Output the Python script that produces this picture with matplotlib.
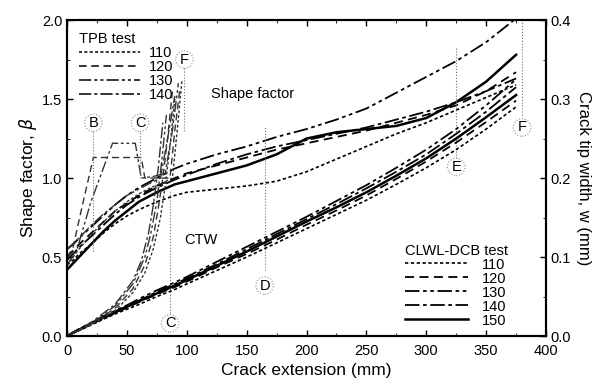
import numpy as np
import matplotlib
matplotlib.use('Agg')
import matplotlib.pyplot as plt
from matplotlib.ticker import MultipleLocator
from matplotlib.lines import Line2D

plt.rcParams['font.family'] = ['Liberation Sans', 'DejaVu Sans']
plt.rcParams['mathtext.fontset'] = 'dejavusans'

# crack extension grid for the CLWL-DCB tests (mm)
x_dcb = [0, 5, 10, 20, 30, 40, 50, 60, 75, 90, 100, 125, 150, 175, 200, 225, 250, 275, 300, 325, 350, 375]

# shape factor, CLWL-DCB
sf_110 = [0.45, 0.48, 0.52, 0.58, 0.65, 0.71, 0.76, 0.80, 0.85, 0.89, 0.91, 0.93, 0.95, 0.98, 1.04, 1.12, 1.20, 1.28, 1.35, 1.43, 1.51, 1.59]
sf_120 = [0.50, 0.54, 0.58, 0.65, 0.72, 0.79, 0.84, 0.89, 0.95, 1.00, 1.03, 1.08, 1.13, 1.18, 1.22, 1.26, 1.30, 1.35, 1.40, 1.46, 1.55, 1.67]
sf_130 = [0.55, 0.58, 0.62, 0.69, 0.76, 0.83, 0.89, 0.94, 1.00, 1.06, 1.09, 1.15, 1.20, 1.26, 1.31, 1.37, 1.44, 1.54, 1.64, 1.74, 1.86, 2.01]
sf_140 = [0.48, 0.52, 0.56, 0.63, 0.70, 0.77, 0.83, 0.88, 0.94, 0.99, 1.02, 1.09, 1.15, 1.20, 1.24, 1.28, 1.32, 1.37, 1.42, 1.48, 1.55, 1.63]
sf_150 = [0.42, 0.46, 0.50, 0.58, 0.66, 0.73, 0.79, 0.85, 0.91, 0.96, 0.98, 1.03, 1.08, 1.15, 1.25, 1.29, 1.31, 1.33, 1.38, 1.48, 1.61, 1.78]

# crack tip width, CLWL-DCB (mm)
w_110 = [0, 0.004, 0.007, 0.014, 0.021, 0.028, 0.034, 0.040, 0.050, 0.059, 0.066, 0.083, 0.100, 0.118, 0.136, 0.154, 0.172, 0.192, 0.213, 0.236, 0.262, 0.290]
w_120 = [0, 0.004, 0.008, 0.015, 0.022, 0.029, 0.036, 0.043, 0.053, 0.062, 0.069, 0.087, 0.104, 0.122, 0.141, 0.159, 0.178, 0.199, 0.221, 0.245, 0.271, 0.298]
w_130 = [0, 0.005, 0.009, 0.017, 0.025, 0.032, 0.039, 0.047, 0.058, 0.068, 0.075, 0.094, 0.113, 0.132, 0.151, 0.171, 0.191, 0.213, 0.236, 0.262, 0.292, 0.325]
w_140 = [0, 0.004, 0.008, 0.016, 0.024, 0.031, 0.038, 0.045, 0.056, 0.066, 0.073, 0.091, 0.110, 0.129, 0.148, 0.167, 0.187, 0.208, 0.230, 0.256, 0.284, 0.315]
w_150 = [0, 0.004, 0.008, 0.016, 0.023, 0.030, 0.037, 0.044, 0.054, 0.064, 0.071, 0.089, 0.107, 0.126, 0.145, 0.163, 0.182, 0.203, 0.225, 0.250, 0.277, 0.305]

# TPB tests: shape factor
tpb_sf_x_110 = [0, 10, 20, 30, 40, 50, 60, 70, 80, 88, 92, 96]
tpb_sf_110 = [0.45, 0.55, 0.64, 0.72, 0.79, 0.85, 0.90, 0.94, 0.97, 1.00, 1.30, 1.62]
tpb_sf_x_120 = [0, 5, 12, 22, 40, 62, 65, 75, 86, 90, 94]
tpb_sf_120 = [0.50, 0.56, 0.80, 1.13, 1.13, 1.13, 1.00, 1.00, 1.00, 1.30, 1.55]
tpb_sf_x_130 = [0, 8, 20, 38, 50, 57, 62, 72, 82, 88, 93]
tpb_sf_130 = [0.45, 0.54, 0.85, 1.22, 1.22, 1.22, 1.00, 1.01, 1.03, 1.30, 1.60]
tpb_sf_x_140 = [0, 10, 20, 30, 40, 50, 60, 70, 78, 84, 90]
tpb_sf_140 = [0.55, 0.62, 0.70, 0.77, 0.83, 0.89, 0.93, 0.97, 1.00, 1.25, 1.52]

# TPB tests: crack tip width (mm)
tpb_w_x_110 = [0, 20, 40, 55, 65, 72, 78, 82, 86, 90]
tpb_w_110 = [0, 0.014, 0.032, 0.055, 0.080, 0.110, 0.150, 0.190, 0.240, 0.300]
tpb_w_x_120 = [0, 20, 40, 55, 65, 72, 76, 80, 84, 88]
tpb_w_120 = [0, 0.015, 0.035, 0.060, 0.090, 0.125, 0.160, 0.200, 0.250, 0.310]
tpb_w_x_130 = [0, 20, 40, 55, 65, 70, 75, 79, 83]
tpb_w_130 = [0, 0.016, 0.038, 0.066, 0.100, 0.130, 0.170, 0.220, 0.280]
tpb_w_x_140 = [0, 20, 40, 55, 62, 68, 72, 76, 80]
tpb_w_140 = [0, 0.017, 0.040, 0.070, 0.095, 0.130, 0.165, 0.210, 0.270]

tests = ['110', '120', '130', '140', '150']

# stage markers: label, x, label y, line start, line end (shape factor units)
stages = [('B', 22, 1.35, 0.54, 1.30),
          ('C', 61, 1.35, 1.00, 1.29),
          ('F', 98, 1.75, 1.30, 1.70),
          ('C', 86, 0.08, 0.13, 0.92),
          ('D', 165, 0.32, 0.42, 1.32),
          ('E', 325, 1.07, 1.13, 1.83),
          ('F', 380, 1.32, 1.40, 2.00)]

styles = {'110': (0, (2, 1.5)),
          '120': (0, (5, 3)),
          '130': (0, (8, 2, 2, 2, 2, 2)),
          '140': (0, (8, 2, 2, 2)),
          '150': '-'}
widths = {'110': 1.2, '120': 1.3, '130': 1.3, '140': 1.3, '150': 1.8}

fig = plt.figure(figsize=(6.06, 3.85), dpi=100)
ax = fig.add_axes([0.1106, 0.127, 0.7904, 0.821])
ax2 = ax.twinx()

dcb_sf = [sf_110, sf_120, sf_130, sf_140, sf_150]
dcb_w = [w_110, w_120, w_130, w_140, w_150]
for t, sf, w in zip(tests, dcb_sf, dcb_w):
    ax.plot(x_dcb, sf, color='k', ls=styles[t], lw=widths[t])
    ax2.plot(x_dcb, w, color='k', ls=styles[t], lw=widths[t])

tpb_sf = [(tpb_sf_x_110, tpb_sf_110), (tpb_sf_x_120, tpb_sf_120),
          (tpb_sf_x_130, tpb_sf_130), (tpb_sf_x_140, tpb_sf_140)]
tpb_w = [(tpb_w_x_110, tpb_w_110), (tpb_w_x_120, tpb_w_120),
         (tpb_w_x_130, tpb_w_130), (tpb_w_x_140, tpb_w_140)]
for t, (xs, ys), (xw, yw) in zip(tests[:4], tpb_sf, tpb_w):
    ax.plot(xs, ys, color='0.2', ls=styles[t], lw=1.0)
    ax2.plot(xw, yw, color='0.2', ls=styles[t], lw=1.0)

for lab, xs, yl, y0, y1 in stages:
    ax.plot([xs, xs], [y0, y1], color='0.45', ls=':', lw=0.8)
    ax.text(xs, yl, lab, ha='center', va='center', fontsize=10.5,
            bbox=dict(boxstyle='circle,pad=0.12', fc='white', ec='0.55', ls=':', lw=0.8))

ax.text(120, 1.53, 'Shape factor', fontsize=10.5, va='center')
ax.text(98, 0.61, 'CTW', fontsize=10.5, va='center')

ax.set_xlim(0, 400)
ax.set_ylim(0, 2.0)
ax2.set_ylim(0, 0.4)
ax.xaxis.set_major_locator(MultipleLocator(50))
ax.xaxis.set_minor_locator(MultipleLocator(25))
ax.yaxis.set_major_locator(MultipleLocator(0.5))
ax.yaxis.set_minor_locator(MultipleLocator(0.25))
ax2.yaxis.set_major_locator(MultipleLocator(0.1))
ax2.yaxis.set_minor_locator(MultipleLocator(0.05))
ax.tick_params(which='both', direction='in', top=True, labelsize=10.5)
ax.tick_params(which='major', length=4, width=1)
ax.tick_params(which='minor', length=2)
ax.tick_params(axis='x', pad=6)
ax2.tick_params(which='both', direction='in', labelsize=10.5)
ax2.tick_params(which='major', length=4, width=1)
ax2.tick_params(which='minor', length=2)
ax.set_yticks([0, 0.5, 1.0, 1.5, 2.0])
ax.set_yticklabels(['0.0', '0.5', '1.0', '1.5', '2.0'])
for s in ax.spines.values():
    s.set_linewidth(1.5)
for s in ax2.spines.values():
    s.set_linewidth(1.5)

ax.set_xlabel('Crack extension (mm)', fontsize=12.5, labelpad=3)
ax.set_ylabel(r'Shape factor, $\beta$', fontsize=12.5, labelpad=2)
ax2.set_ylabel('Crack tip width, w (mm)', fontsize=12, rotation=270, labelpad=14)

tpb_handles = [Line2D([], [], color='k', ls=styles[t], lw=1.1) for t in tests[:4]]
leg1 = ax2.legend(tpb_handles, tests[:4], title='TPB test', loc='upper left',
                  bbox_to_anchor=(0.0, 1.0), frameon=False, fontsize=10.5,
                  title_fontsize=10.5, handlelength=4.2, labelspacing=0.0,
                  handletextpad=0.6, borderpad=0.3, alignment='left')
ax2.add_artist(leg1)
dcb_handles = [Line2D([], [], color='k', ls=styles[t], lw=widths[t]) for t in tests]
ax2.legend(dcb_handles, tests, title='CLWL-DCB test', loc='lower right',
           bbox_to_anchor=(0.945, -0.01), frameon=False, fontsize=10.5,
           title_fontsize=10.5, handlelength=4.3, labelspacing=0.0,
           handletextpad=1.0, borderpad=0.3, alignment='left')

fig.savefig('out.png', dpi=100)
